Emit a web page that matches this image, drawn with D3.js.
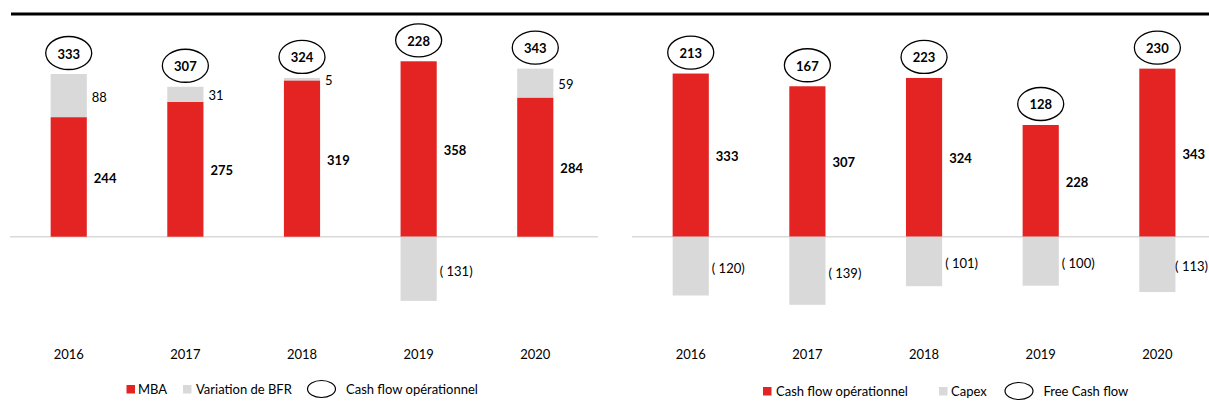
<!DOCTYPE html>
<html>
<head>
<meta charset="utf-8">
<script src="https://cdn.jsdelivr.net/npm/d3@7"></script>
<style>
  html, body { margin: 0; padding: 0; background: #fff; }
  svg { display: block; font-family: Lato, "Open Sans", sans-serif; }
</style>
</head>
<body>
<svg id="chart" width="1209" height="412"></svg>
<script>
// ---- data ----
const years = ["2016", "2017", "2018", "2019", "2020"];
// left chart
const mba = [244, 275, 319, 358, 284];
const varBFR = [88, 31, 5, -131, 59];
const cashFlowOp = [333, 307, 324, 228, 343];
// right chart
const cfoRight = [333, 307, 324, 228, 343];
const capex = [-120, -139, -101, -100, -113];
const freeCashFlow = [213, 167, 223, 128, 230];
// legends
const legendLeft = ["MBA", "Variation de BFR", "Cash flow opérationnel"];
const legendRight = ["Cash flow opérationnel", "Capex", "Free Cash flow"];

const RED = "#e32422", GREY = "#d9d9d9";
const W = 1209;
const svg = d3.select("#chart");
const fmt = v => v < 0 ? `( ${-v})` : `${v}`;

// top rule
svg.append("line").attr("x1", 11).attr("x2", W).attr("y1", 14).attr("y2", 14)
  .attr("stroke", "#000").attr("stroke-width", 3);

const y = d3.scaleLinear().domain([-200, 400]).range([236.7 + 98, 236.7 - 196]);

function fitInside(t) {
  const len = t.node().getComputedTextLength();
  const x = +t.attr("x");
  if (x + len > W - 1) t.attr("x", W - 1 - len);
}

function panel(range, lineX, pos, posExtra, neg, circ, legItems, legX, legY) {
  const x = d3.scaleBand().domain(years).range(range).paddingInner(0.69).paddingOuter(0.345);
  const g = svg.append("g");
  const bw = x.bandwidth();
  // zero line
  g.append("line").attr("x1", lineX[0]).attr("x2", lineX[1])
    .attr("y1", y(0)).attr("y2", y(0)).attr("stroke", "#d9d9d9").attr("stroke-width", 1.5);

  years.forEach((yr, i) => {
    const x0 = x(yr);
    // red positive bar
    g.append("rect").attr("x", x0).attr("width", bw)
      .attr("y", y(pos[i])).attr("height", y(0) - y(pos[i])).attr("fill", RED);
    let top = y(pos[i]);
    // grey stacked positive extra
    if (posExtra && posExtra[i] > 0) {
      const t = y(pos[i] + posExtra[i]);
      g.append("rect").attr("x", x0).attr("width", bw)
        .attr("y", t).attr("height", y(pos[i]) - t).attr("fill", GREY);
      g.append("text").attr("x", x0 + bw + 5).attr("y", (t + y(pos[i])) / 2 + 1)
        .attr("dominant-baseline", "central").attr("font-size", 13).attr("fill", "#000")
        .text(fmt(posExtra[i]));
      top = t;
    }
    // grey negative
    if (neg[i] < 0) {
      g.append("rect").attr("x", x0).attr("width", bw)
        .attr("y", y(0)).attr("height", y(neg[i]) - y(0)).attr("fill", GREY);
      const nt = g.append("text").attr("x", x0 + bw + 3).attr("y", (y(0) + y(neg[i])) / 2 + 2)
        .attr("dominant-baseline", "central").attr("font-size", 13).attr("fill", "#000")
        .text(fmt(neg[i]));
      fitInside(nt);
    }
    // bold label for red
    g.append("text").attr("x", x0 + bw + 7).attr("y", (y(pos[i]) + y(0)) / 2 + 1)
      .attr("dominant-baseline", "central").attr("font-size", 13).attr("font-weight", "bold")
      .attr("fill", "#000").text(fmt(pos[i]));
    // ellipse
    const cx = x0 + bw / 2, cy = top - 21;
    g.append("ellipse").attr("cx", cx).attr("cy", cy).attr("rx", 23).attr("ry", 16.5)
      .attr("fill", "#fff").attr("stroke", "#000").attr("stroke-width", 1.3);
    g.append("text").attr("x", cx).attr("y", cy + 0.5).attr("text-anchor", "middle")
      .attr("dominant-baseline", "central").attr("font-size", 13).attr("font-weight", "bold")
      .attr("fill", "#000").text(circ[i]);
    // year
    g.append("text").attr("x", cx).attr("y", 354).attr("text-anchor", "middle")
      .attr("dominant-baseline", "central").attr("font-size", 13).attr("fill", "#000").text(yr);
  });

  // legend
  const L = svg.append("g");
  L.append("rect").attr("x", legX[0]).attr("y", legY - 4).attr("width", 8.5).attr("height", 8.5).attr("fill", RED);
  L.append("text").attr("x", legX[1]).attr("y", legY).attr("dominant-baseline", "central")
    .attr("font-size", 13).attr("fill", "#000").text(legItems[0]);
  L.append("rect").attr("x", legX[2]).attr("y", legY - 4).attr("width", 8.5).attr("height", 8.5).attr("fill", GREY);
  L.append("text").attr("x", legX[3]).attr("y", legY).attr("dominant-baseline", "central")
    .attr("font-size", 13).attr("fill", "#000").text(legItems[1]);
  L.append("ellipse").attr("cx", legX[4]).attr("cy", legY).attr("rx", 14).attr("ry", 8.5)
    .attr("fill", "#fff").attr("stroke", "#000").attr("stroke-width", 1.2);
  L.append("text").attr("x", legX[5]).attr("y", legY).attr("dominant-baseline", "central")
    .attr("font-size", 13).attr("fill", "#000").text(legItems[2]);
}

panel([10.4, 593.6], [10, 598], mba, varBFR, varBFR, cashFlowOp, legendLeft,
  [126.5, 138, 183, 196, 321.5, 346], 389);
panel([632.4, 1215.7], [632, 1209], cfoRight, null, capex, freeCashFlow, legendRight,
  [763, 776, 939, 951, 1019, 1043.5], 391);
</script>
</body>
</html>
